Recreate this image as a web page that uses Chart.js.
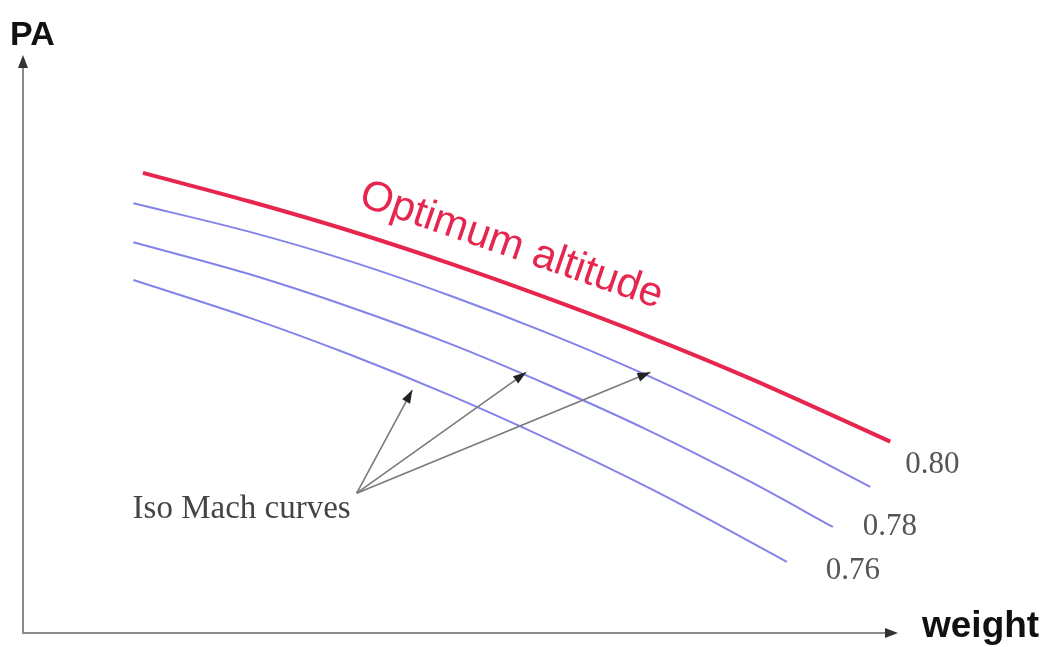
<!DOCTYPE html>
<html>
<head>
<meta charset="utf-8">
<script src="https://cdn.jsdelivr.net/npm/chart.js@4"></script>
<style>
  html, body { margin: 0; padding: 0; background: #fff; }
  #wrap { width: 1052px; height: 647px; position: relative; }
</style>
</head>
<body>
<div id="wrap"><canvas id="chart"></canvas></div>
<script>
// weight / pressure altitude, arbitrary units (0..100 on both axes)
const optWeight = [13.8, 26.1, 37.6, 49.1, 60.6, 72.2, 83.7, 99.8];
const optPA     = [80.3, 75.3, 70.2, 64.5, 58.3, 51.6, 44.4, 33.4];

const mach80Weight = [12.7, 26.1, 37.6, 49.1, 60.6, 72.2, 83.7, 97.5];
const mach80PA     = [75.0, 70.0, 64.9, 58.9, 52.2, 44.7, 36.4, 25.5];

const mach78Weight = [12.7, 26.1, 37.6, 49.1, 60.6, 72.2, 83.7, 93.2];
const mach78PA     = [68.2, 62.6, 56.9, 50.5, 43.2, 35.2, 26.4, 18.5];

const mach76Weight = [12.7, 26.1, 37.6, 49.1, 60.6, 72.2, 80.2, 87.9];
const mach76PA     = [61.6, 55.0, 48.6, 41.5, 33.7, 25.2, 18.8, 12.4];

const machLabels = ['0.80', '0.78', '0.76'];

const toPoints = (xs, ys) => xs.map((x, i) => ({x: x, y: ys[i]}));

const RED = '#e6264f';
const BLUE = '#8383ea';

function arrowHead(ctx, x1, y1, x2, y2, len, half) {
    // filled triangle with tip at (x2, y2)
    const a = Math.atan2(y2 - y1, x2 - x1);
    ctx.beginPath();
    ctx.moveTo(x2, y2);
    ctx.lineTo(x2 - len * Math.cos(a) + half * Math.sin(a), y2 - len * Math.sin(a) - half * Math.cos(a));
    ctx.lineTo(x2 - len * Math.cos(a) - half * Math.sin(a), y2 - len * Math.sin(a) + half * Math.cos(a));
    ctx.closePath();
    ctx.fill();
}

// axis arrows, titles and all the annotation text
const decorations = {
    id: 'decorations',
    afterDraw(chart) {
        const ctx = chart.ctx;
        const area = chart.chartArea;
        const xs = chart.scales.x;
        const ys = chart.scales.y;
        ctx.save();

        // axis arrowheads
        ctx.fillStyle = '#333';
        arrowHead(ctx, area.left, area.top + 20, area.left, area.top - 5, 13, 5);
        arrowHead(ctx, area.right - 20, area.bottom, area.right + 6, area.bottom, 13, 5);

        // axis titles
        ctx.fillStyle = '#111';
        ctx.textBaseline = 'alphabetic';
        ctx.textAlign = 'left';
        ctx.font = 'bold 34px "Liberation Sans", Arial, sans-serif';
        ctx.fillText('PA', 10, 45);
        ctx.font = 'bold 37px "Liberation Sans", Arial, sans-serif';
        ctx.fillText('weight', 922, 637);

        // optimum altitude label, along the red curve
        ctx.save();
        ctx.translate(xs.getPixelForValue(56.2), ys.getPixelForValue(67.6));
        ctx.rotate(19 * Math.PI / 180);
        ctx.fillStyle = RED;
        ctx.font = '42px "Liberation Sans", Arial, sans-serif';
        ctx.textAlign = 'center';
        ctx.textBaseline = 'middle';
        ctx.fillText('Optimum altitude', 0, 0);
        ctx.restore();

        // mach labels at the end of each iso mach curve
        const offsets = [[62, -22], [57, 0], [66, 9]];
        ctx.fillStyle = '#555';
        ctx.font = '31px "Liberation Serif", "Times New Roman", serif';
        ctx.textAlign = 'center';
        ctx.textBaseline = 'middle';
        for (let i = 0; i < machLabels.length; i++) {
            const meta = chart.getDatasetMeta(i + 1);
            const last = meta.data[meta.data.length - 1];
            ctx.fillText(machLabels[i], last.x + offsets[i][0], last.y + offsets[i][1]);
        }

        // "Iso Mach curves" callout
        const sx = xs.getPixelForValue(38.4), sy = ys.getPixelForValue(24.4);
        const tips = [[44.8, 42.4], [57.9, 45.5], [72.2, 45.5]];
        ctx.strokeStyle = '#7a7a7a';
        ctx.lineWidth = 1.6;
        ctx.fillStyle = '#222';
        tips.forEach(t => {
            const tx = xs.getPixelForValue(t[0]), ty = ys.getPixelForValue(t[1]);
            ctx.beginPath();
            ctx.moveTo(sx, sy);
            ctx.lineTo(tx, ty);
            ctx.stroke();
            arrowHead(ctx, sx, sy, tx, ty, 13, 4.5);
        });
        ctx.fillStyle = '#444';
        ctx.font = '33px "Liberation Serif", "Times New Roman", serif';
        ctx.textAlign = 'right';
        ctx.textBaseline = 'alphabetic';
        ctx.fillText('Iso Mach curves', sx - 6, sy + 25);

        ctx.restore();
    }
};

const ctx = document.getElementById('chart').getContext('2d');
const chart = new Chart(ctx, {
    type: 'line',
    data: {
        datasets: [
            {label: 'Optimum altitude', data: toPoints(optWeight, optPA), borderColor: RED, borderWidth: 4},
            {label: 'M 0.80', data: toPoints(mach80Weight, mach80PA), borderColor: BLUE, borderWidth: 2},
            {label: 'M 0.78', data: toPoints(mach78Weight, mach78PA), borderColor: BLUE, borderWidth: 2},
            {label: 'M 0.76', data: toPoints(mach76Weight, mach76PA), borderColor: BLUE, borderWidth: 2},
        ]
    },
    options: {
        responsive: true,
        maintainAspectRatio: false,
        animation: false,
        layout: {padding: {left: 15, top: 60, right: 160, bottom: 6}},
        elements: {
            point: {radius: 0},
            line: {cubicInterpolationMode: 'monotone', fill: false}
        },
        plugins: {
            legend: {display: false},
            tooltip: {enabled: false}
        },
        scales: {
            x: {
                type: 'linear', min: 0, max: 100,
                grid: {display: false},
                ticks: {display: false},
                border: {display: true, color: '#8c8c8c', width: 2}
            },
            y: {
                type: 'linear', min: 0, max: 100,
                grid: {display: false},
                ticks: {display: false},
                border: {display: true, color: '#8c8c8c', width: 2}
            }
        }
    },
    plugins: [decorations]
});
</script>
</body>
</html>
